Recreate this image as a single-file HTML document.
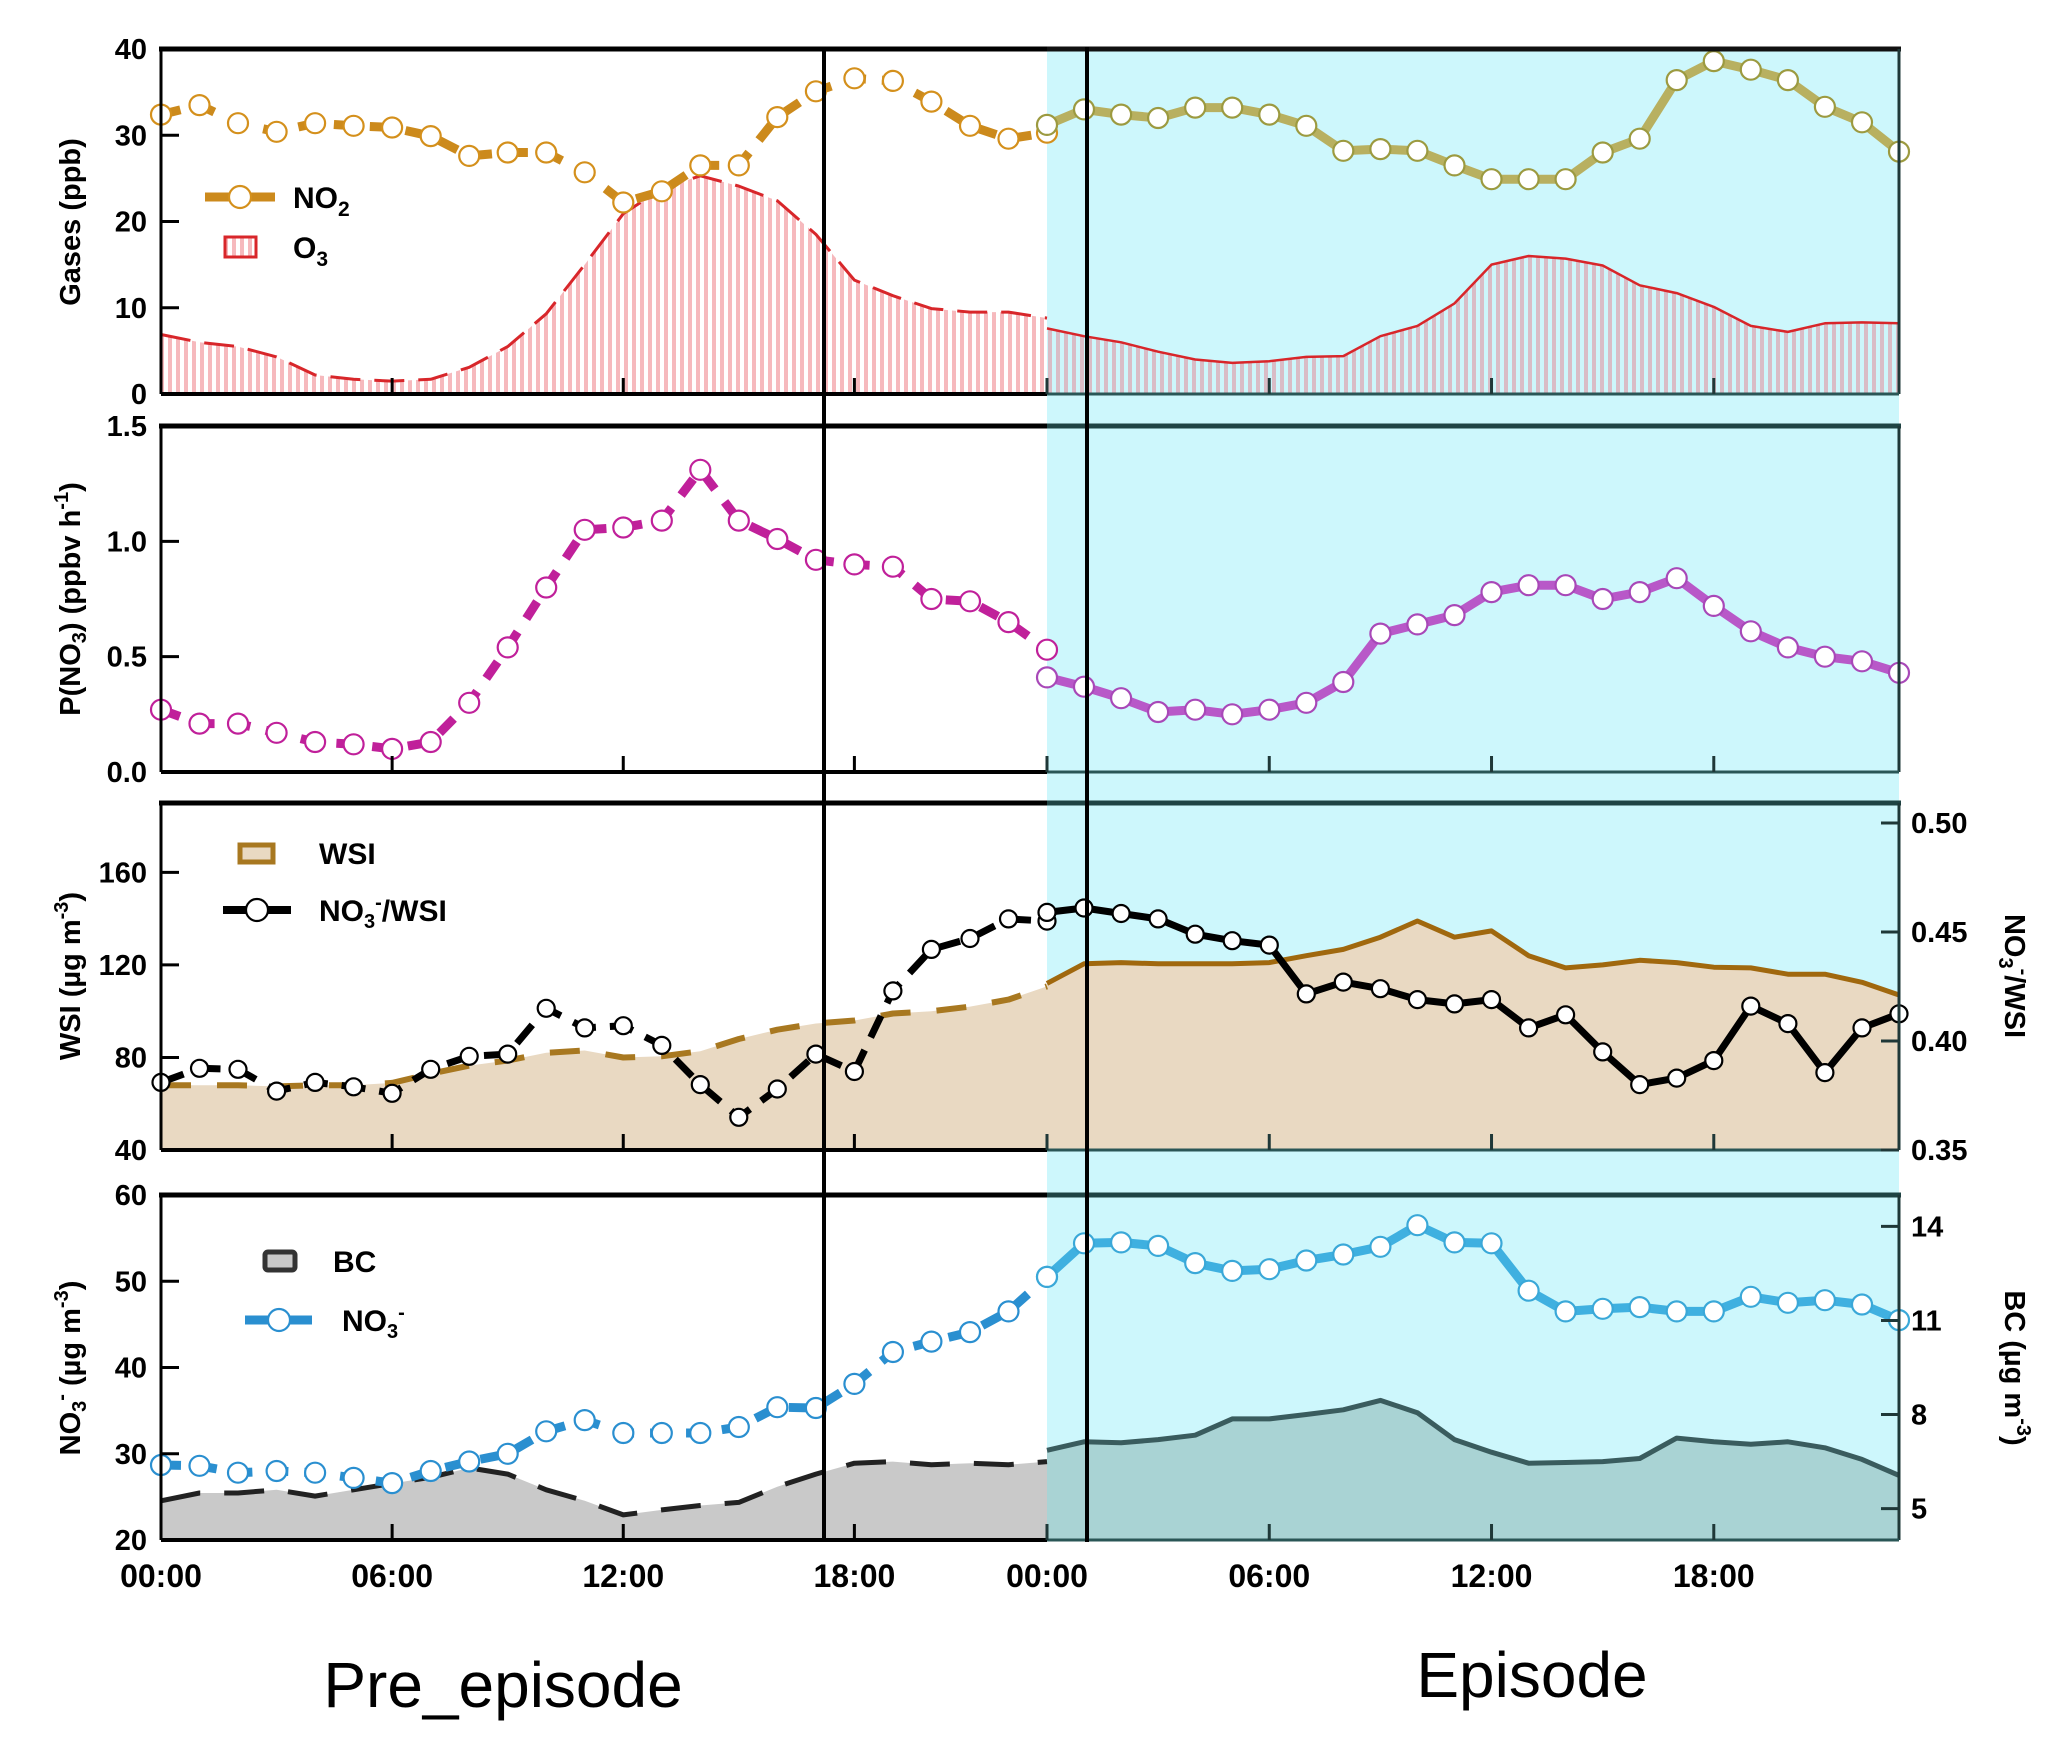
<!DOCTYPE html>
<html><head><meta charset="utf-8">
<style>
html,body{margin:0;padding:0;background:#fff;}
svg{display:block;font-family:"Liberation Sans",Arial,sans-serif;}
</style></head>
<body>
<svg id="chart" width="2067" height="1740" viewBox="0 0 2067 1740" xmlns="http://www.w3.org/2000/svg">
<defs>
<pattern id="stripePre" patternUnits="userSpaceOnUse" width="8" height="10"><rect width="8" height="10" fill="#fff"/><rect width="4" height="10" fill="#f6b9bd"/></pattern>
<pattern id="stripeEp" patternUnits="userSpaceOnUse" width="8" height="10"><rect width="8" height="10" fill="#cdf6fb"/><rect width="4" height="10" fill="#d9bcc6"/></pattern>
</defs>
<g id="root"></g>
</svg>
<script>
// ---- data (hourly, pre-episode 00..23 and episode 00..23) ----
const hours = [0,1,2,3,4,5,6,7,8,9,10,11,12,13,14,15,16,17,18,19,20,21,22,23];
const xTickHours = [0,6,12,18];
const xTickLabels = ["00:00","06:00","12:00","18:00"];

const no2Pre = [32.4,33.5,31.4,30.4,31.4,31.1,30.9,29.9,27.6,28.0,28.0,25.7,22.2,23.5,26.5,26.5,32.1,35.1,36.6,36.3,33.9,31.1,29.6,30.3];
const no2Ep  = [31.2,33.0,32.4,32.0,33.2,33.2,32.4,31.1,28.2,28.4,28.2,26.5,24.9,24.9,24.9,28.0,29.6,36.4,38.6,37.6,36.4,33.3,31.5,28.1];
const o3Pre  = [6.9,6.0,5.5,4.3,2.2,1.7,1.5,1.7,3.1,5.5,9.3,15.0,20.9,23.8,25.3,24.1,22.4,18.5,13.2,11.4,9.9,9.5,9.5,8.8];
const o3Ep   = [7.6,6.7,6.0,4.9,4.0,3.6,3.8,4.3,4.4,6.7,7.9,10.5,15.0,16.0,15.7,14.9,12.6,11.7,10.1,7.9,7.2,8.2,8.3,8.2];
const pno3Pre = [0.27,0.21,0.21,0.17,0.13,0.12,0.10,0.13,0.30,0.54,0.80,1.05,1.06,1.09,1.31,1.09,1.01,0.92,0.90,0.89,0.75,0.74,0.65,0.53];
const pno3Ep  = [0.41,0.37,0.32,0.26,0.27,0.25,0.27,0.30,0.39,0.60,0.64,0.68,0.78,0.81,0.81,0.75,0.78,0.84,0.72,0.61,0.54,0.50,0.48,0.43];
const wsiPre = [68,68,68,67.5,68,68,69,73,76.5,78.7,82,83,80,80.5,82.7,88,92,94.7,96,99,100,102,105,110.7];
const wsiEp  = [112,120.5,121,120.5,120.5,120.5,121,124,126.7,132,139,132,134.7,124,118.7,120,122,121,119,118.7,116,116,112.5,107];
const ratioPre = [0.381,0.3875,0.387,0.377,0.381,0.379,0.376,0.387,0.393,0.394,0.415,0.406,0.407,0.398,0.380,0.365,0.378,0.394,0.386,0.423,0.442,0.447,0.456,0.455];
const ratioEp  = [0.459,0.461,0.4585,0.456,0.449,0.446,0.444,0.4216,0.427,0.424,0.419,0.417,0.419,0.406,0.412,0.395,0.380,0.383,0.391,0.416,0.408,0.3855,0.406,0.4125];
const no3Pre = [28.7,28.6,27.8,28.0,27.8,27.2,26.6,28.0,29.1,30.0,32.6,33.9,32.4,32.4,32.4,33.1,35.4,35.3,38.1,41.8,43.0,44.1,46.5,50.5];
const no3Ep  = [50.5,54.4,54.5,54.1,52.1,51.2,51.4,52.4,53.1,54.0,56.5,54.5,54.4,48.9,46.5,46.8,47.0,46.5,46.5,48.2,47.5,47.8,47.3,45.5];
const bcPre = [5.25,5.5,5.5,5.6,5.4,5.6,5.8,6.0,6.3,6.1,5.6,5.25,4.8,4.96,5.1,5.2,5.7,6.1,6.45,6.5,6.4,6.45,6.4,6.5];
const bcEp  = [6.86,7.13,7.1,7.2,7.34,7.86,7.86,8.0,8.15,8.45,8.06,7.2,6.8,6.45,6.47,6.5,6.6,7.25,7.13,7.05,7.13,6.94,6.57,6.06];

const ticks1 = [0,10,20,30,40];
const ticks2 = [0,0.5,1.0,1.5];
const ticks2L = ["0.0","0.5","1.0","1.5"];
const ticks3 = [40,80,120,160];
const ticks3R = [0.35,0.40,0.45,0.50];
const ticks4 = [20,30,40,50,60];
const ticks4R = [5,8,11,14];

// ---- scales ----
const X0=161, XE=1047, XR=1899;
const xPre = h => X0 + h*(XE-X0)/23;
const xEp = h => XE + h*(XR-XE)/23;
const P = [
 {top:49, bot:394, y:v=>394 - v*(345/40)},
 {top:426, bot:772, y:v=>772 - v*(346/1.5)},
 {top:803, bot:1150, y:v=>1150-(v-40)*(347/150), yr:r=>823-(r-0.5)*2180},
 {top:1195, bot:1540, y:v=>1540-(v-20)*(345/40), yr:b=>1540-(b-4)*(345/11)}
];

const NS="http://www.w3.org/2000/svg";
const root=document.getElementById('root');
function mk(tag, attrs, parent){
  const e=document.createElementNS(NS,tag);
  for(const k in attrs) e.setAttribute(k,attrs[k]);
  (parent||root).appendChild(e); return e;
}
function pts(xf, ys, yf){ return ys.map((v,i)=>xf(hours[i]).toFixed(1)+","+yf(v).toFixed(1)).join(" "); }
function areaPath(xf, ys, yf, base){
  let d="M"+xf(hours[0]).toFixed(1)+","+base;
  ys.forEach((v,i)=>{ d+=" L"+xf(hours[i]).toFixed(1)+","+yf(v).toFixed(1); });
  d+=" L"+xf(hours[ys.length-1]).toFixed(1)+","+base+" Z"; return d;
}
function line(xf, ys, yf, color, w, dash, name){
  const e=mk('polyline',{points:pts(xf,ys,yf),fill:'none',stroke:color,'stroke-width':w,'stroke-linejoin':'round'});
  if(dash) e.setAttribute('stroke-dasharray',dash);
  
  
}
function markers(xf, ys, yf, stroke, r, name){
  const g=mk('g',{});
  
  
  ys.forEach((v,i)=>{
    const c=mk('circle',{cx:xf(hours[i]).toFixed(1),cy:yf(v).toFixed(1),r:r,fill:'#fff',stroke:stroke,'stroke-width':2.2},g);
    
    
  });
}
function area(xf, ys, yf, base, fill, name){
  const e=mk('path',{d:areaPath(xf,ys,yf,base),fill:fill,stroke:'none'});
  
  
}
function text(x,y,s,attrs,name){
  const t=mk('text',Object.assign({x:x,y:y},attrs||{}));
  t.textContent=s;
  
  
  return t;
}

// cyan episode background
const bg=mk('rect',{x:XE,y:49,width:XR-XE,height:1540-49,fill:'#cdf7fc'});



// ---- Panel 1: gases ----
area(xPre,o3Pre,P[0].y,P[0].bot,'url(#stripePre)','o3-area-pre');
area(xEp,o3Ep,P[0].y,P[0].bot,'url(#stripeEp)','o3-area-episode');
line(xPre,o3Pre,P[0].y,'#d8262a',3,'30 14','o3-line-pre');
line(xEp,o3Ep,P[0].y,'#d8262a',2.5,null,'o3-line-episode');
line(xPre,no2Pre,P[0].y,'#cc8a1c',9,'20 16','no2-line-pre');
line(xEp,no2Ep,P[0].y,'#b8b060',9,null,'no2-line-episode');
markers(xPre,no2Pre,P[0].y,'#d4901c',10,'no2-markers-pre');
markers(xEp,no2Ep,P[0].y,'#9c9a40',10,'no2-markers-episode');

// ---- Panel 2: P(NO3) ----
line(xPre,pno3Pre,P[1].y,'#c0209a',9,'20 16','pno3-line-pre');
line(xEp,pno3Ep,P[1].y,'#b858c8',9,null,'pno3-line-episode');
markers(xPre,pno3Pre,P[1].y,'#c0209a',10,'pno3-markers-pre');
markers(xEp,pno3Ep,P[1].y,'#a848b8',10,'pno3-markers-episode');

// ---- Panel 3: WSI + ratio ----
area(xPre,wsiPre,P[2].y,P[2].bot,'#e9d9c2','wsi-area-pre');
area(xEp,wsiEp,P[2].y,P[2].bot,'#e9d9c2','wsi-area-episode');
line(xPre,wsiPre,P[2].y,'#a87820',6,'30 26','wsi-line-pre');
line(xEp,wsiEp,P[2].y,'#a0680e',5,null,'wsi-line-episode');
line(xPre,ratioPre,P[2].yr,'#000',7,'24 14','ratio-line-pre');
line(xEp,ratioEp,P[2].yr,'#000',7,null,'ratio-line-episode');
markers(xPre,ratioPre,P[2].yr,'#000',8.5,'ratio-markers-pre');
markers(xEp,ratioEp,P[2].yr,'#000',8.5,'ratio-markers-episode');

// ---- Panel 4: NO3 + BC ----
area(xPre,bcPre,P[3].yr,P[3].bot,'#c9c9c9','bc-area-pre');
area(xEp,bcEp,P[3].yr,P[3].bot,'#a9d3d4','bc-area-episode');
line(xPre,bcPre,P[3].yr,'#222',5,'40 24','bc-line-pre');
line(xEp,bcEp,P[3].yr,'#3a5c5e',5,null,'bc-line-episode');
line(xPre,no3Pre,P[3].y,'#2a8fd0',9,'20 16','no3-line-pre');
line(xEp,no3Ep,P[3].y,'#3fb0e0',9,null,'no3-line-episode');
markers(xPre,no3Pre,P[3].y,'#2a8fd0',10,'no3-markers-pre');
markers(xEp,no3Ep,P[3].y,'#3aa8d8',10,'no3-markers-episode');

// ---- axes / frames ----
const yTickSets=[[ticks1,ticks1.map(String)],[ticks2,ticks2L],[ticks3,ticks3.map(String)],[ticks4,ticks4.map(String)]];
P.forEach((p,i)=>{
  mk('line',{x1:X0-2,y1:p.top,x2:XE,y2:p.top,stroke:'#000','stroke-width':5});
  mk('line',{x1:XE,y1:p.top,x2:XR+2,y2:p.top,stroke:i==0?'#111':'#1f4444','stroke-width':5});
  mk('line',{x1:X0,y1:p.top,x2:X0,y2:p.bot,stroke:'#000','stroke-width':3});
  mk('line',{x1:XR,y1:p.top,x2:XR,y2:p.bot,stroke:'#1f3838','stroke-width':3});
  mk('line',{x1:X0,y1:p.bot,x2:XE,y2:p.bot,stroke:'#000','stroke-width':4});
  mk('line',{x1:XE,y1:p.bot,x2:XR,y2:p.bot,stroke:'#2a5656','stroke-width':3});
  xTickHours.forEach(h=>{
    mk('line',{x1:xPre(h),y1:p.bot,x2:xPre(h),y2:p.bot-16,stroke:'#000','stroke-width':3});
    mk('line',{x1:xEp(h),y1:p.bot,x2:xEp(h),y2:p.bot-16,stroke:'#1f3838','stroke-width':3});
  });
  const [tv,tl]=yTickSets[i];
  tv.forEach((v,k)=>{
    const y=p.y(v);
    mk('line',{x1:X0,y1:y,x2:X0+18,y2:y,stroke:'#000','stroke-width':3});
    text(147,y+10,tl[k],{'text-anchor':'end','font-size':29,'font-weight':'bold'},'y-tick-label');
  });
});
ticks3R.forEach(v=>{
  const y=P[2].yr(v);
  mk('line',{x1:XR,y1:y,x2:XR-18,y2:y,stroke:'#1f3838','stroke-width':3});
  text(1911,y+10,v.toFixed(2),{'font-size':29,'font-weight':'bold'},'right-tick-label');
});
ticks4R.forEach(v=>{
  const y=P[3].yr(v);
  mk('line',{x1:XR,y1:y,x2:XR-18,y2:y,stroke:'#1f3838','stroke-width':3});
  text(1911,y+10,String(v),{'font-size':29,'font-weight':'bold'},'right-tick-label');
});

// x tick labels
xTickHours.forEach((h,k)=>{
  text(xPre(h),1587,xTickLabels[k],{'text-anchor':'middle','font-size':32,'font-weight':'bold'},'x-tick-label');
  text(xEp(h),1587,xTickLabels[k],{'text-anchor':'middle','font-size':32,'font-weight':'bold'},'x-tick-label');
});

// vertical marker lines
[824,1087].forEach(x=>{
  const l=mk('line',{x1:x,y1:47,x2:x,y2:1542,stroke:'#000','stroke-width':4});
  
  
});
</script>

<!-- axis titles -->
<svg style="position:absolute;left:0;top:0" width="2067" height="1740" viewBox="0 0 2067 1740" xmlns="http://www.w3.org/2000/svg" font-family="Liberation Sans, Arial, sans-serif" font-weight="bold">
<text transform="translate(80,222) rotate(-90)" text-anchor="middle" font-size="29">Gases  (ppb)</text>
<text transform="translate(80,599) rotate(-90)" text-anchor="middle" font-size="29">P(NO<tspan font-size="20" dy="6">3</tspan><tspan dy="-6">)  (ppbv h</tspan><tspan font-size="20" dy="-12">-1</tspan><tspan dy="12">)</tspan></text>
<text transform="translate(80,976) rotate(-90)" text-anchor="middle" font-size="29">WSI (µg m<tspan font-size="20" dy="-12">-3</tspan><tspan dy="12">)</tspan></text>
<text transform="translate(80,1368) rotate(-90)" text-anchor="middle" font-size="29">NO<tspan font-size="20" dy="6">3</tspan><tspan font-size="20" dy="-18">-</tspan><tspan dy="12"> (µg m</tspan><tspan font-size="20" dy="-12">-3</tspan><tspan dy="12">)</tspan></text>
<text transform="translate(2005,976) rotate(90)" text-anchor="middle" font-size="29">NO<tspan font-size="20" dy="6">3</tspan><tspan font-size="20" dy="-18">-</tspan><tspan dy="12">/WSI</tspan></text>
<text transform="translate(2005,1368) rotate(90)" text-anchor="middle" font-size="29">BC (µg m<tspan font-size="20" dy="-12">-3</tspan><tspan dy="12">)</tspan></text>

<g>
<line x1="205" y1="197" x2="275" y2="197" stroke="#cc8a1c" stroke-width="9"/>
<circle cx="240" cy="197" r="11" fill="#fff" stroke="#d4901c" stroke-width="2.2"/>
<text x="293" y="208" font-size="30">NO<tspan font-size="21" dy="8">2</tspan></text>
<rect x="225" y="237" width="31" height="20" fill="url(#stripePre)" stroke="#d8262a" stroke-width="3"/>
<text x="293" y="258" font-size="30">O<tspan font-size="21" dy="8">3</tspan></text>
</g>
<g>
<rect x="240" y="845" width="33" height="17" fill="#e9d9c2" stroke="#a87820" stroke-width="5"/>
<text x="319" y="864" font-size="30">WSI</text>
<line x1="223" y1="910" x2="291" y2="910" stroke="#000" stroke-width="8"/>
<circle cx="257" cy="910" r="11" fill="#fff" stroke="#000" stroke-width="2.2"/>
<text x="319" y="921" font-size="30">NO<tspan font-size="20" dy="7">3</tspan><tspan font-size="20" dy="-19">-</tspan><tspan dy="12">/WSI</tspan></text>
</g>
<g>
<rect x="265" y="1252" width="30" height="18" rx="3" fill="#c9c9c9" stroke="#333" stroke-width="5"/>
<text x="333" y="1272" font-size="30">BC</text>
<line x1="245" y1="1320" x2="312" y2="1320" stroke="#2a8fd0" stroke-width="9"/>
<circle cx="279" cy="1320" r="11" fill="#fff" stroke="#2a8fd0" stroke-width="2.2"/>
<text x="342" y="1331" font-size="30">NO<tspan font-size="20" dy="7">3</tspan><tspan font-size="20" dy="-19">-</tspan></text>
</g>
<text x="503" y="1707" text-anchor="middle" font-size="64" font-weight="normal">Pre_episode</text>
<text x="1532" y="1697" text-anchor="middle" font-size="64" font-weight="normal">Episode</text>
</svg>
</body></html>
